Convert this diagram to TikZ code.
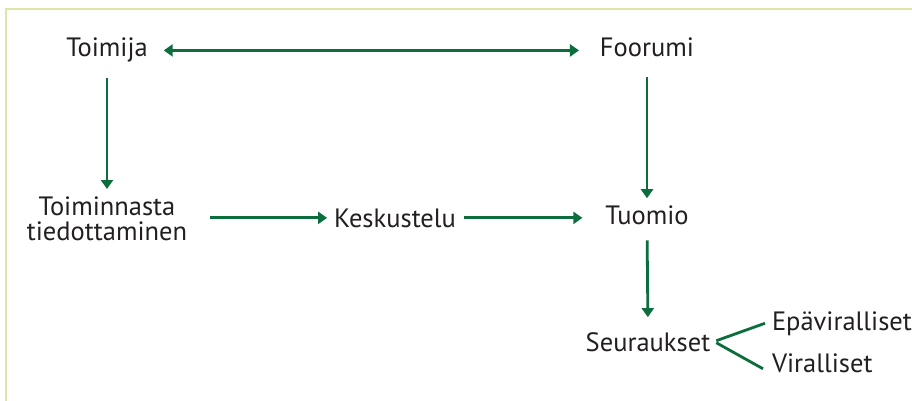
\documentclass[tikz,border=0pt]{standalone}
\usepackage{fontspec}
\setmainfont{PT Sans}
\usetikzlibrary{arrows.meta}
\definecolor{arrgreen}{HTML}{0B6E3C}
\definecolor{framecol}{HTML}{DFE5A6}
\definecolor{txt}{HTML}{231F20}
\tikzset{
  lbl/.style={inner sep=0pt, outer sep=0pt, text=txt, font=\fontsize{26.5}{25}\selectfont},
  arr/.style={draw=arrgreen, line width=2.8pt, -{Triangle[width=12pt,length=9pt]}},
  darr/.style={draw=arrgreen, line width=2.8pt, {Triangle[width=12pt,length=9pt]}-{Triangle[width=12pt,length=9pt]}},
  branch/.style={draw=arrgreen, line width=2.8pt},
  framel/.style={draw=framecol, line width=2pt}
}
\begin{document}
\begin{tikzpicture}[x=1pt,y=-1pt]
\useasboundingbox (0,0) rectangle (912,401);
\fill[white] (0,0) rectangle (912,401);
\draw[framel] (6,401) -- (6,9) -- (912,9);

\node[lbl, anchor=base] (toimija) at (107,57) {Toimija};
\node[lbl, anchor=base] (foorumi) at (647,57) {Foorumi};
\node[lbl, anchor=north, align=center] (toimi) at (107,197) {Toiminnasta\\tiedottaminen};
\node[lbl, anchor=base] (kesk) at (395,227) {Keskustelu};
\node[lbl, anchor=base] (tuomio) at (647,224) {Tuomio};
\node[lbl, anchor=base] (seur) at (648,351) {Seuraukset};
\node[lbl, anchor=base west] (epa) at (772,330) {Epäviralliset};
\node[lbl, anchor=base west] (vir) at (772,372) {Viralliset};

\draw[darr, shorten <=16pt, shorten >=21pt] (toimija.east) -- (toimija.east -| foorumi.west);
\draw[arr, shorten <=15pt, shorten >=8pt] (toimija.south) -- (toimi.north);
\draw[arr, shorten <=20pt, shorten >=7pt] (foorumi.south) -- (tuomio.north);
\draw[arr, shorten <=23pt, shorten >=7pt] (kesk.west -| toimi.east) -- (kesk.west);
\draw[arr, shorten <=8pt, shorten >=23pt] (kesk.east) -- (kesk.east -| tuomio.west);
\draw[arr, shorten <=16pt, shorten >=15pt] (tuomio.south) -- (seur.north);
\draw[branch] ([xshift=6pt,yshift=1pt]seur.east) -- ([xshift=-7pt]epa.west);
\draw[branch] ([xshift=6pt,yshift=-1pt]seur.east) -- ([xshift=-9pt,yshift=-6pt]vir.west);
\end{tikzpicture}
\end{document}
